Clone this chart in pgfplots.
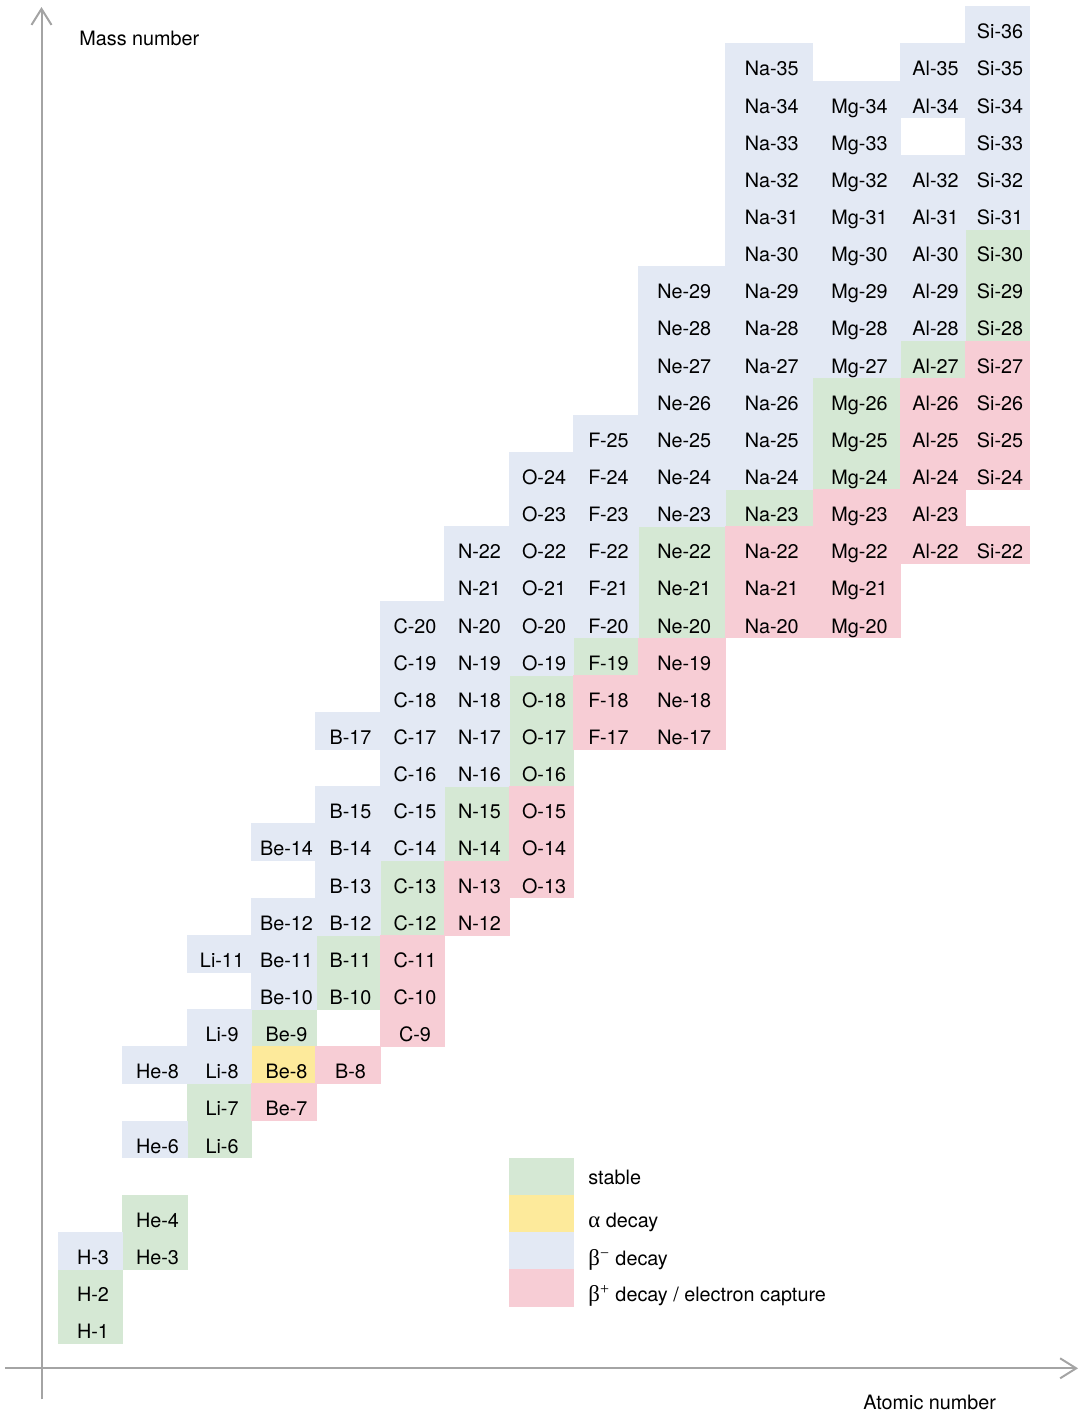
\documentclass[border=0pt]{standalone}
\usepackage{fontspec}
\setmainfont{TeX Gyre Heros}
\newfontfamily\grk[Scale=1.15]{Liberation Serif}
\usepackage{pgfplots}
\usepackage{pgfplotstable}
\pgfplotsset{compat=1.18}
\usetikzlibrary{arrows.meta}

\definecolor{cstable}{HTML}{D5E8D4}
\definecolor{calpha}{HTML}{FDEA9B}
\definecolor{cbminus}{HTML}{E3E9F4}
\definecolor{cbplus}{HTML}{F7CDD5}
\definecolor{caxis}{HTML}{A4A4A4}

\newcommand{\cellfont}{\fontsize{9.9}{11}\selectfont}

% x = horizontal position of the cell centre (px), y = mass number
% narrow columns: H ... F, Al, Si (65 px); wide columns: Ne, Na, Mg (87.5 px)
\pgfplotstableread{
x y label
90.5 1 H-1
90.5 2 H-2
155 3 He-3
155 4 He-4
219.5 6 Li-6
219.5 7 Li-7
284 9 Be-9
348 10 B-10
348 11 B-11
412.5 12 C-12
412.5 13 C-13
477 14 N-14
477 15 N-15
541.5 16 O-16
541.5 17 O-17
541.5 18 O-18
606 19 F-19
933 27 Al-27
997.5 28 Si-28
997.5 29 Si-29
997.5 30 Si-30
}\stableN
\pgfplotstableread{
x y label
681.75 20 Ne-20
681.75 21 Ne-21
681.75 22 Ne-22
769.25 23 Na-23
857 24 Mg-24
857 25 Mg-25
857 26 Mg-26
}\stableW

\pgfplotstableread{
x y label
284 8 Be-8
}\alphaN

\pgfplotstableread{
x y label
90.5 3 H-3
155 6 He-6
155 8 He-8
219.5 8 Li-8
219.5 9 Li-9
219.5 11 Li-11
284 10 Be-10
284 11 Be-11
284 12 Be-12
284 14 Be-14
348 12 B-12
348 13 B-13
348 14 B-14
348 15 B-15
348 17 B-17
412.5 14 C-14
412.5 15 C-15
412.5 16 C-16
412.5 17 C-17
412.5 18 C-18
412.5 19 C-19
412.5 20 C-20
477 16 N-16
477 17 N-17
477 18 N-18
477 19 N-19
477 20 N-20
477 21 N-21
477 22 N-22
541.5 19 O-19
541.5 20 O-20
541.5 21 O-21
541.5 22 O-22
541.5 23 O-23
541.5 24 O-24
606 20 F-20
606 21 F-21
606 22 F-22
606 23 F-23
606 24 F-24
606 25 F-25
933 28 Al-28
933 29 Al-29
933 30 Al-30
933 31 Al-31
933 32 Al-32
933 34 Al-34
933 35 Al-35
997.5 31 Si-31
997.5 32 Si-32
997.5 33 Si-33
997.5 34 Si-34
997.5 35 Si-35
997.5 36 Si-36
}\bminusN
\pgfplotstableread{
x y label
681.75 23 Ne-23
681.75 24 Ne-24
681.75 25 Ne-25
681.75 26 Ne-26
681.75 27 Ne-27
681.75 28 Ne-28
681.75 29 Ne-29
769.25 24 Na-24
769.25 25 Na-25
769.25 26 Na-26
769.25 27 Na-27
769.25 28 Na-28
769.25 29 Na-29
769.25 30 Na-30
769.25 31 Na-31
769.25 32 Na-32
769.25 33 Na-33
769.25 34 Na-34
769.25 35 Na-35
857 27 Mg-27
857 28 Mg-28
857 29 Mg-29
857 30 Mg-30
857 31 Mg-31
857 32 Mg-32
857 33 Mg-33
857 34 Mg-34
}\bminusW

\pgfplotstableread{
x y label
284 7 Be-7
348 8 B-8
412.5 9 C-9
412.5 10 C-10
412.5 11 C-11
477 12 N-12
477 13 N-13
541.5 13 O-13
541.5 14 O-14
541.5 15 O-15
606 17 F-17
606 18 F-18
933 22 Al-22
933 23 Al-23
933 24 Al-24
933 25 Al-25
933 26 Al-26
997.5 22 Si-22
997.5 24 Si-24
997.5 25 Si-25
997.5 26 Si-26
997.5 27 Si-27
}\bplusN
\pgfplotstableread{
x y label
681.75 17 Ne-17
681.75 18 Ne-18
681.75 19 Ne-19
769.25 20 Na-20
769.25 21 Na-21
769.25 22 Na-22
857 20 Mg-20
857 21 Mg-21
857 22 Mg-22
857 23 Mg-23
}\bplusW

% legend swatches (same cell grid)
\pgfplotstableread{
x y label
541.5 5 {}
}\legstable
\pgfplotstableread{
x y label
541.5 4 {}
}\legalpha
\pgfplotstableread{
x y label
541.5 3 {}
}\legbminus
\pgfplotstableread{
x y label
541.5 2 {}
}\legbplus

\pgfplotsset{
  cellplot/.style 2 args={
    draw=none, mark=none,
    point meta=explicit symbolic,
    nodes near coords={\hspace*{2.5pt}\pgfplotspointmeta},
    every node near coord/.append style={
      anchor=center, inner sep=0pt, outer sep=0pt,
      fill=#1, text=black, font=\cellfont,
      minimum width=#2, minimum height=18.92pt,
      text height=13.6pt, text depth=0pt},
  },
}

\begin{document}
\begin{tikzpicture}
\begin{axis}[
  x=0.5pt, y=18.57pt,
  xmin=0, xmax=1080, ymin=-1.338, ymax=36.68,
  hide axis, clip=false,
]
\addplot[cellplot={cstable}{32.8pt}] table[x=x, y=y, meta=label] {\stableN};
\addplot[cellplot={cstable}{44.1pt}] table[x=x, y=y, meta=label] {\stableW};
\addplot[cellplot={calpha}{32.8pt}] table[x=x, y=y, meta=label] {\alphaN};
\addplot[cellplot={cbminus}{32.8pt}] table[x=x, y=y, meta=label] {\bminusN};
\addplot[cellplot={cbminus}{44.1pt}] table[x=x, y=y, meta=label] {\bminusW};
\addplot[cellplot={cbplus}{32.8pt}] table[x=x, y=y, meta=label] {\bplusN};
\addplot[cellplot={cbplus}{44.1pt}] table[x=x, y=y, meta=label] {\bplusW};

\addplot[cellplot={cstable}{32.5pt}] table[x=x, y=y, meta=label] {\legstable};
\addplot[cellplot={calpha}{32.5pt}] table[x=x, y=y, meta=label] {\legalpha};
\addplot[cellplot={cbminus}{32.5pt}] table[x=x, y=y, meta=label] {\legbminus};
\addplot[cellplot={cbplus}{32.5pt}] table[x=x, y=y, meta=label] {\legbplus};

\path (rel axis cs:0,0) rectangle (rel axis cs:1,1);

\draw[caxis, line width=1pt, -{Straight Barb[length=8pt,width=10pt,line width=1pt]}]
  (axis cs:41.5,-0.996) -- (axis cs:41.5,36.49);
\draw[caxis, line width=1pt, -{Straight Barb[length=8pt,width=10pt,line width=1pt]}]
  (axis cs:5,-0.1616) -- (axis cs:1078,-0.1616);

\node[anchor=base west, font=\cellfont, inner sep=0pt] at (axis cs:79,35.46) {Mass number};
\node[anchor=base west, font=\cellfont, inner sep=0pt] at (axis cs:863,-1.262) {Atomic number};

\node[anchor=base west, font=\cellfont, inner sep=0pt] at (axis cs:588,4.80) {stable};
\node[anchor=base west, font=\cellfont, inner sep=0pt] at (axis cs:588,3.62) {{\grk α} decay};
\node[anchor=base west, font=\cellfont, inner sep=0pt] at (axis cs:588,2.60) {{\grk β}\textsuperscript{\grk −} decay};
\node[anchor=base west, font=\cellfont, inner sep=0pt] at (axis cs:588,1.63) {{\grk β}\textsuperscript{\grk +} decay / electron capture};
\end{axis}
\end{tikzpicture}
\end{document}
